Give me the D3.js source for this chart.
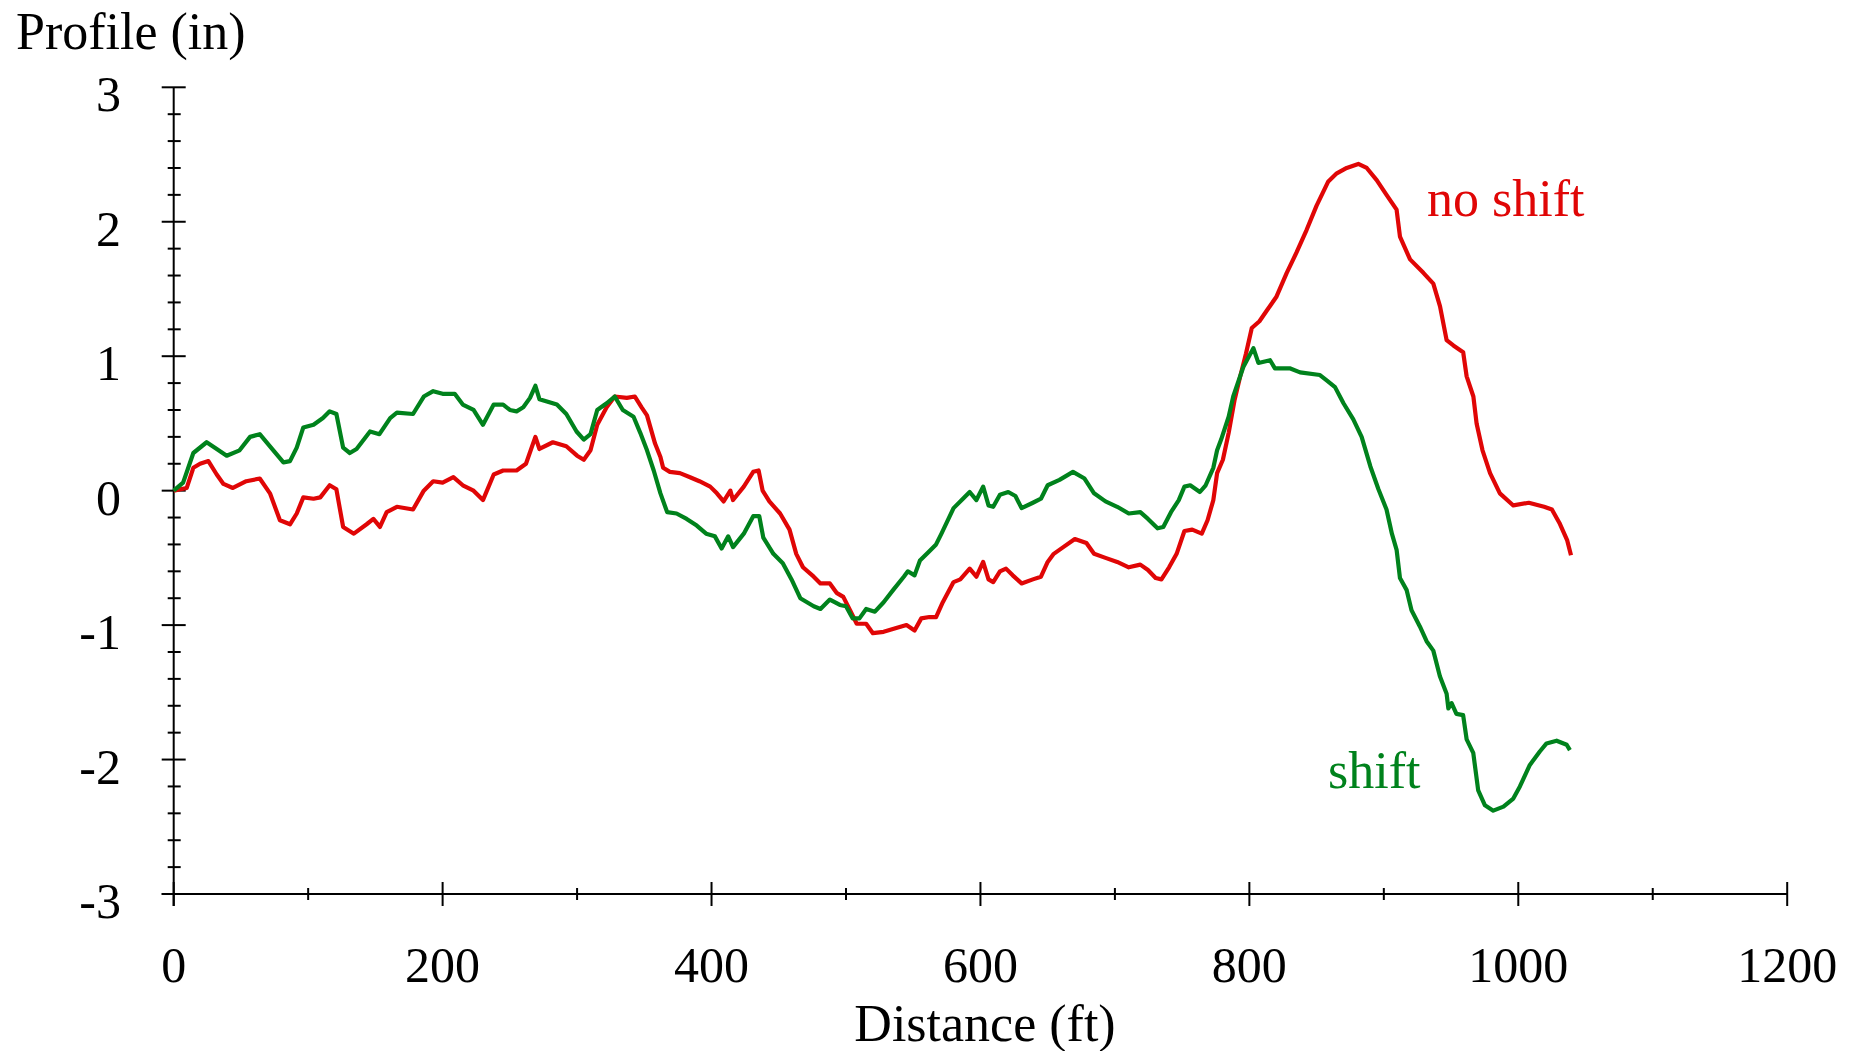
<!DOCTYPE html>
<html>
<head>
<meta charset="utf-8">
<script src="https://cdn.jsdelivr.net/npm/d3@7"></script>
<style>
  html, body { margin: 0; padding: 0; background: #fff; }
  svg { display: block; }
  text { font-family: "Liberation Serif", "Times New Roman", serif; fill: #000; }
</style>
</head>
<body>
<svg id="chart" width="1864" height="1051"></svg>
<script>
// ---- data ----
const distNoShift = [0,9.7,14.6,19.6,25.8,32,37,44,54,64,71.6,79,86.5,91.5,96.4,104,109,116,121,126,134,143.5,148.5,153.4,158.4,166,178,186,193,200,208,215,223,230,238,245,255,262,269,272,282,292,300,305,310,315,322,328,337,343,348,352,358,362,364,369,376.5,384,391,399,404,409,414,416,424,431,435,438,443,451,458,463,468,476,481,488,493,498,503,508,515,520,528,538,545,551,556,562,567,572,580,585,592,597,602,606,609.5,614.5,619,624,630.6,639,645,650,654.5,661.6,670.2,678.8,684.5,693,701.7,710.3,718.9,724.6,730.3,734.6,740.3,745.9,751.7,757.5,764.6,768.9,773.2,776,780.3,784.6,788.9,793.2,797.5,801.8,807.5,813,820,827.8,835,842.6,850,858.7,865,872.4,881,887.3,894.7,902,909.5,912,919.5,929.4,936.8,941.8,946.7,951.7,959,961.6,966.6,969,973.4,979,986.3,996.3,1007.8,1019.2,1025,1030.6,1036.4,1039.2];
const profileNoShift = [0,0.02,0.17,0.20,0.22,0.12,0.05,0.02,0.07,0.09,-0.02,-0.22,-0.25,-0.17,-0.05,-0.06,-0.05,0.04,0.01,-0.27,-0.32,-0.25,-0.21,-0.27,-0.16,-0.12,-0.14,0.0,0.07,0.06,0.10,0.04,0.0,-0.07,0.12,0.15,0.15,0.20,0.40,0.31,0.36,0.33,0.26,0.23,0.30,0.49,0.62,0.70,0.69,0.70,0.62,0.56,0.35,0.25,0.17,0.14,0.13,0.10,0.07,0.03,-0.02,-0.08,0.0,-0.07,0.03,0.14,0.15,0.0,-0.08,-0.17,-0.29,-0.47,-0.57,-0.64,-0.69,-0.69,-0.76,-0.79,-0.89,-0.99,-0.99,-1.06,-1.05,-1.02,-1.0,-1.04,-0.95,-0.94,-0.94,-0.83,-0.68,-0.66,-0.58,-0.64,-0.53,-0.66,-0.68,-0.60,-0.58,-0.63,-0.69,-0.66,-0.64,-0.53,-0.47,-0.42,-0.36,-0.39,-0.47,-0.50,-0.53,-0.57,-0.55,-0.59,-0.65,-0.66,-0.57,-0.47,-0.30,-0.29,-0.32,-0.22,-0.07,0.13,0.23,0.43,0.67,0.85,1.02,1.21,1.26,1.34,1.44,1.62,1.77,1.94,2.12,2.30,2.36,2.40,2.43,2.40,2.31,2.20,2.09,1.89,1.72,1.62,1.54,1.37,1.12,1.08,1.03,0.85,0.70,0.50,0.30,0.13,-0.02,-0.11,-0.09,-0.12,-0.14,-0.24,-0.37,-0.48];

const distShift = [0,7,14.6,24.5,32,39.4,49,56.8,64,71.6,81.6,86.5,91.5,96.4,104,111,116,121,126,131,136,146,153,161,166,178,186,193,200,209,215,223,230,238,245,250,255,260,265,269,272,285,292,299.6,305,310,315,322,328,334,342,347,352,357,362,367,374,381.5,389,396,402.5,407.5,412.4,416,424,431,435.5,438.5,446,453,459.5,466,476,481,488,495.5,500,505,510,515,521.5,528,535,543,546,551,555,562,567,571,580,587,592,597,602,606,609.5,614.5,620.7,626,630.6,639,645,650,658.8,668.8,677.4,684.5,693,701.7,710.3,718.9,724.6,731.7,736,741.7,747.5,751.7,756,763.2,767.5,773.2,776,779,784.6,788,795.5,803,806.7,815.4,819,830,837.7,852.5,857.5,863.7,870,877.3,883.5,890,896,902,906,909.5,912,917,920.6,926.8,931.8,936.8,941.7,946.7,948,950.4,954,959,961.6,966.5,970.2,975.2,981.4,989,996.3,1001.2,1008.6,1016,1021,1028.5,1036,1038.4];
const profileShift = [0,0.06,0.28,0.36,0.31,0.26,0.30,0.40,0.42,0.33,0.21,0.22,0.32,0.47,0.49,0.54,0.59,0.57,0.32,0.28,0.31,0.44,0.42,0.54,0.58,0.57,0.70,0.74,0.72,0.72,0.64,0.60,0.49,0.64,0.64,0.60,0.59,0.62,0.69,0.78,0.68,0.64,0.57,0.44,0.38,0.42,0.60,0.65,0.70,0.60,0.55,0.43,0.30,0.15,-0.02,-0.16,-0.17,-0.21,-0.26,-0.32,-0.34,-0.43,-0.34,-0.42,-0.32,-0.19,-0.19,-0.35,-0.47,-0.54,-0.66,-0.80,-0.86,-0.88,-0.81,-0.85,-0.86,-0.95,-0.95,-0.88,-0.90,-0.83,-0.74,-0.64,-0.60,-0.63,-0.52,-0.45,-0.40,-0.32,-0.13,-0.06,-0.01,-0.07,0.03,-0.11,-0.12,-0.03,-0.01,-0.04,-0.13,-0.09,-0.06,0.04,0.08,0.14,0.09,-0.02,-0.08,-0.12,-0.17,-0.16,-0.21,-0.28,-0.27,-0.16,-0.07,0.03,0.04,-0.01,0.04,0.17,0.30,0.38,0.55,0.70,0.92,1.06,0.95,0.97,0.91,0.91,0.88,0.86,0.82,0.77,0.65,0.53,0.40,0.18,0.01,-0.14,-0.32,-0.44,-0.65,-0.74,-0.89,-1.01,-1.12,-1.19,-1.38,-1.51,-1.62,-1.58,-1.66,-1.67,-1.85,-1.95,-2.23,-2.34,-2.38,-2.35,-2.29,-2.20,-2.04,-1.94,-1.88,-1.86,-1.89,-1.93];

const xTicks = [0,200,400,600,800,1000,1200];
const xMinorTicks = [100,300,500,700,900,1100];
const yTicks = [-3,-2,-1,0,1,2,3];
const yMinorTicks = d3.range(-30, 31, 2).map(v => v / 10).filter(v => !Number.isInteger(v));
const yTickLabels = ["-3","-2","-1","0","1","2","3"];

const seriesNames = ["no shift", "shift"];
const seriesColors = ["#e00606", "#00821c"];

// ---- layout ----
const svg = d3.select("#chart");
const x = d3.scaleLinear().domain([0, 1200]).range([173.7, 1787.2]);
const y = d3.scaleLinear().domain([-3, 3]).range([894, 87.3]);

const axisColor = "#000";
const g = svg.append("g");

// axis lines
g.append("line").attr("x1", x(0) - 12).attr("x2", x(1200)).attr("y1", y(-3)).attr("y2", y(-3))
  .attr("stroke", axisColor).attr("stroke-width", 2);
g.append("line").attr("x1", x(0)).attr("x2", x(0)).attr("y1", y(3)).attr("y2", y(-3) + 12)
  .attr("stroke", axisColor).attr("stroke-width", 2);

// x ticks
g.selectAll(".xmaj").data(xTicks).join("line")
  .attr("x1", d => x(d)).attr("x2", d => x(d))
  .attr("y1", y(-3) - 12).attr("y2", y(-3) + 12)
  .attr("stroke", axisColor).attr("stroke-width", 2);
g.selectAll(".xmin").data(xMinorTicks).join("line")
  .attr("x1", d => x(d)).attr("x2", d => x(d))
  .attr("y1", y(-3) - 6).attr("y2", y(-3) + 6)
  .attr("stroke", axisColor).attr("stroke-width", 2);

// y ticks
g.selectAll(".ymaj").data(yTicks).join("line")
  .attr("x1", x(0) - 12).attr("x2", x(0) + 12)
  .attr("y1", d => y(d)).attr("y2", d => y(d))
  .attr("stroke", axisColor).attr("stroke-width", 2);
g.selectAll(".ymin").data(yMinorTicks).join("line")
  .attr("x1", x(0) - 6).attr("x2", x(0) + 7)
  .attr("y1", d => y(d)).attr("y2", d => y(d))
  .attr("stroke", axisColor).attr("stroke-width", 2);

// tick labels
g.selectAll(".xl").data(xTicks).join("text")
  .attr("x", d => x(d)).attr("y", 982)
  .attr("text-anchor", "middle").attr("font-size", 50)
  .text(d => String(d));
g.selectAll(".yl").data(yTicks).join("text")
  .attr("x", 121).attr("y", d => y(d) + 24)
  .attr("text-anchor", "end").attr("font-size", 50)
  .text((d, i) => yTickLabels[i]);

// axis titles
svg.append("text").attr("x", 985).attr("y", 1041).attr("text-anchor", "middle")
  .attr("font-size", 52).text("Distance (ft)");
svg.append("text").attr("x", 16).attr("y", 49).attr("text-anchor", "start")
  .attr("font-size", 52).text("Profile (in)");

// series lines
const series = [
  d3.zip(distNoShift, profileNoShift),
  d3.zip(distShift, profileShift)
];
const line = d3.line().x(d => x(d[0])).y(d => y(d[1]));
[0, 1].forEach(i => {
  svg.append("path").datum(series[i])
    .attr("d", line)
    .attr("fill", "none")
    .attr("stroke", seriesColors[i])
    .attr("stroke-width", 4.2)
    .attr("stroke-linejoin", "round");
});

// series labels
svg.append("text").attr("x", 1427).attr("y", 216).attr("font-size", 52)
  .style("fill", seriesColors[0]).text(seriesNames[0]);
svg.append("text").attr("x", 1328).attr("y", 788).attr("font-size", 52)
  .style("fill", seriesColors[1]).text(seriesNames[1]);
</script>
</body>
</html>
